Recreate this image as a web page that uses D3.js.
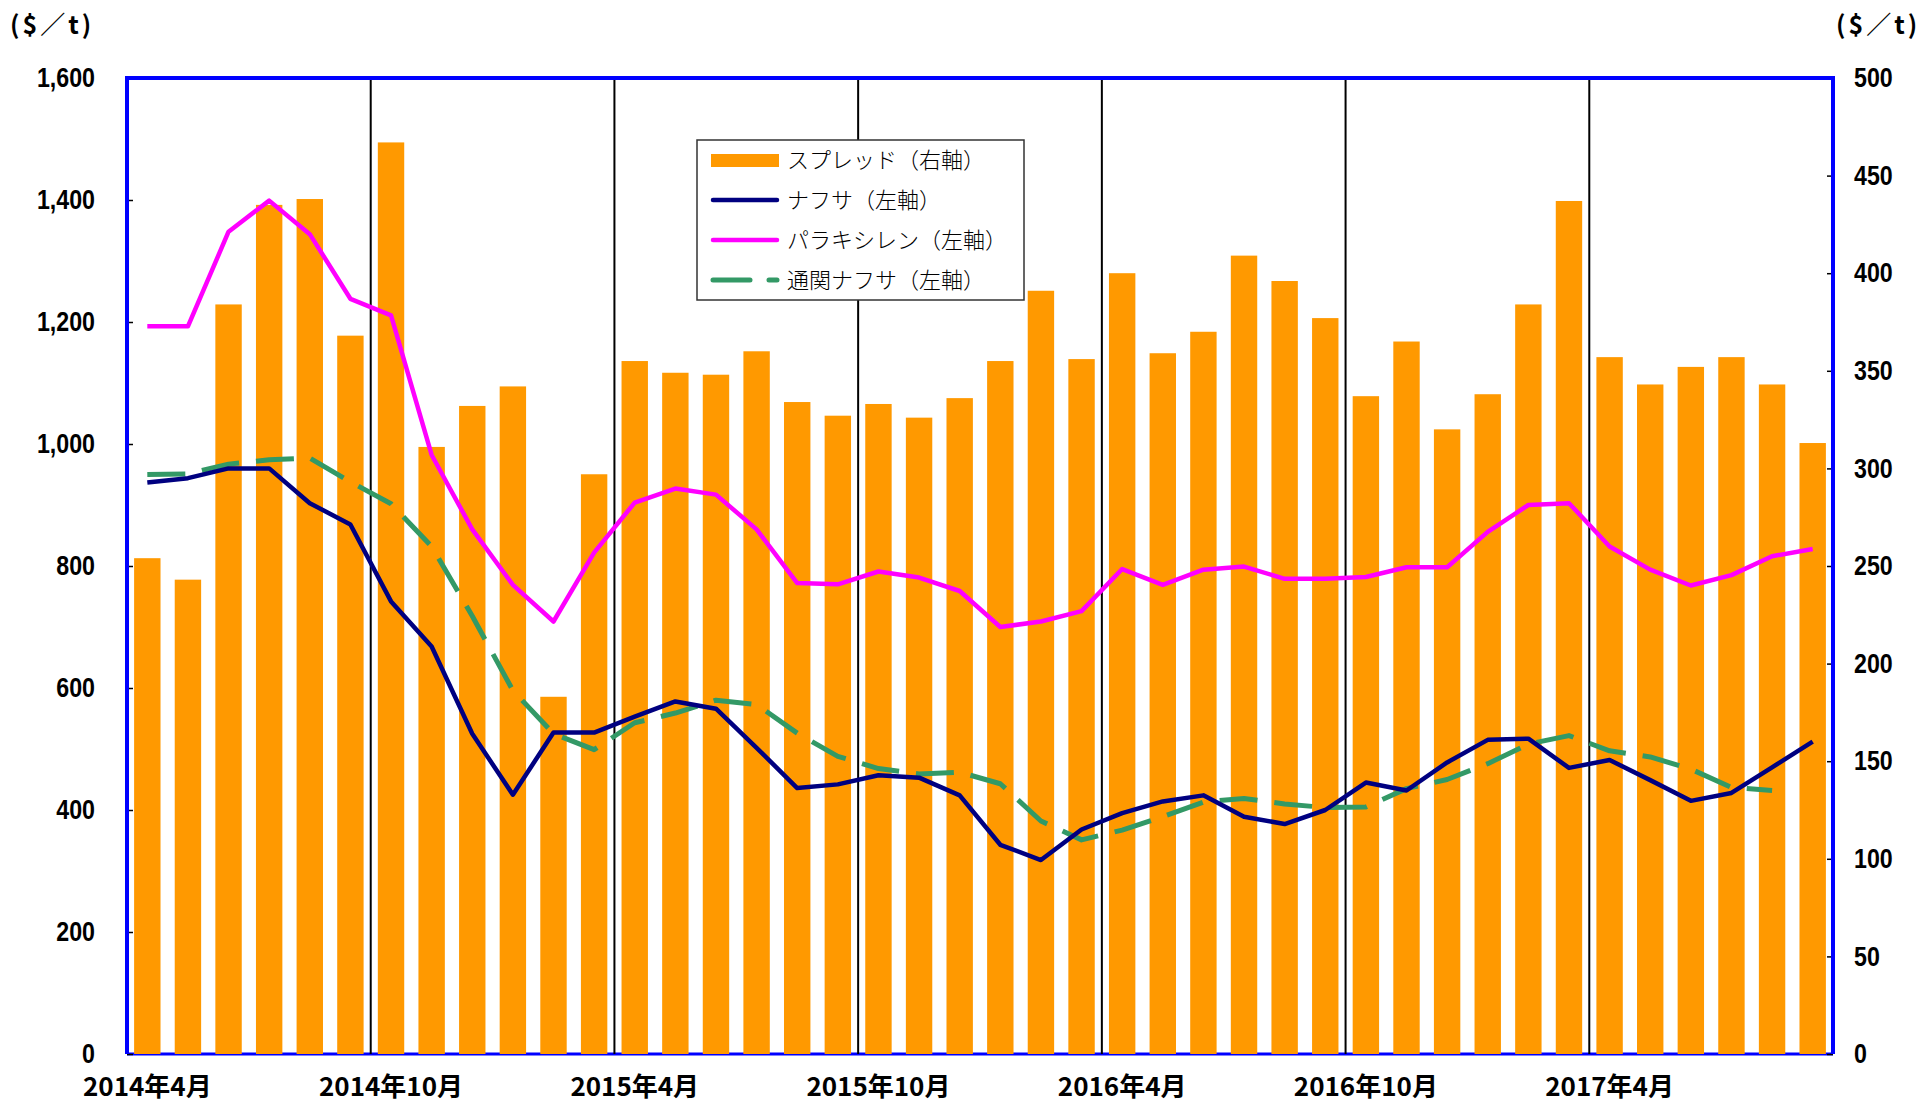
<!DOCTYPE html>
<html lang="ja">
<head>
  <meta charset="UTF-8">
  <title>スプレッド・ナフサ・パラキシレン</title>
  <script src="https://d3js.org/d3.v7.min.js"></script>
  <style>
    body { margin: 0; background: #fff; }
  </style>
</head>
<body>

<script>
  // Months, one bar per month
  const months = [
    "2014年4月","2014年5月","2014年6月","2014年7月","2014年8月","2014年9月",
    "2014年10月","2014年11月","2014年12月","2015年1月","2015年2月","2015年3月",
    "2015年4月","2015年5月","2015年6月","2015年7月","2015年8月","2015年9月",
    "2015年10月","2015年11月","2015年12月","2016年1月","2016年2月","2016年3月",
    "2016年4月","2016年5月","2016年6月","2016年7月","2016年8月","2016年9月",
    "2016年10月","2016年11月","2016年12月","2017年1月","2017年2月","2017年3月",
    "2017年4月","2017年5月","2017年6月","2017年7月","2017年8月","2017年9月"
  ];

  // spread (right axis)
  const spread = [254,243,384,435,438,368,467,311,332,342,183,297,
                  355,349,348,360,334,327,333,326,336,355,391,356,
                  400,359,370,409,396,377,337,365,320,338,384,437,
                  357,343,352,357,343,313];

  // left axis series
  const naphtha = [937,944,960,960,903,868,742,668,525,425,527,527,
                   553,578,566,502,436,442,457,453,424,343,318,368,
                   395,414,424,389,377,400,445,432,478,515,517,469,
                   482,449,415,428,470,512];

  const paraxylene = [1193,1193,1348,1399,1344,1238,1211,982,860,769,709,822,
                      904,927,917,860,772,770,791,781,759,700,709,726,
                      795,769,794,799,779,779,782,798,798,856,900,903,
                      832,794,768,785,816,828];

  const customsNaphtha = [950,951,967,974,977,938,902,832,718,596,525,499,
                          543,559,580,573,526,488,468,459,462,443,382,351,
                          367,389,413,419,410,404,405,435,450,476,508,522,
                          497,487,467,437,432,null];

  const leftTicks = [0,200,400,600,800,1000,1200,1400,1600];
  const rightTicks = [0,50,100,150,200,250,300,350,400,450,500];
  const xTickLabels = ["2014年4月","2014年10月","2015年4月","2015年10月","2016年4月","2016年10月","2017年4月"];

  const legendItems = [
    { name: "スプレッド（右軸）", type: "bar", color: "#FF9900" },
    { name: "ナフサ（左軸）", type: "line", color: "#000080" },
    { name: "パラキシレン（左軸）", type: "line", color: "#FF00FF" },
    { name: "通関ナフサ（左軸）", type: "dash", color: "#339966" }
  ];

  // dimensions
  const W = 1920, H = 1106;
  const margin = { top: 78, right: 87, bottom: 52, left: 127 };
  const width = W - margin.left - margin.right;
  const height = H - margin.top - margin.bottom;
  const numFont = "'Liberation Sans', 'DejaVu Sans', sans-serif";
  const jpFont = "'Noto Sans CJK JP', sans-serif";
  const squeeze = 0.86;

  const svg = d3.select("body").append("svg")
    .attr("width", W)
    .attr("height", H);

  const g = svg.append("g")
    .attr("transform", "translate(" + margin.left + "," + margin.top + ")");

  const x = d3.scaleBand()
    .domain(months)
    .range([0, width])
    .paddingInner(0.35)
    .paddingOuter(0.175);

  const yLeft = d3.scaleLinear().domain([0, 1600]).range([height, 0]);
  const yRight = d3.scaleLinear().domain([0, 500]).range([height, 0]);
  const cx = m => x(m) + x.bandwidth() / 2;

  // bottom line under the bars
  g.append("line")
    .attr("x1", 0).attr("x2", width)
    .attr("y1", height).attr("y2", height)
    .attr("stroke", "#0000FF")
    .attr("stroke-width", 3);

  // bars
  g.selectAll(".bar")
    .data(months)
    .enter().append("rect")
    .attr("class", "bar")
    .attr("x", d => x(d))
    .attr("width", x.bandwidth())
    .attr("y", (d, i) => yRight(spread[i]))
    .attr("height", (d, i) => height - yRight(spread[i]))
    .attr("fill", "#FF9900");

  // half-year separators
  const sepMonths = months.filter((d, i) => i > 0 && i % 6 === 0);
  g.selectAll(".sep")
    .data(sepMonths)
    .enter().append("line")
    .attr("class", "sep")
    .attr("x1", d => x(d) - x.step() * x.paddingOuter())
    .attr("x2", d => x(d) - x.step() * x.paddingOuter())
    .attr("y1", 0)
    .attr("y2", height)
    .attr("stroke", "#000")
    .attr("stroke-width", 2);

  // lines
  function drawLine(values, color, dash, w) {
    const line = d3.line()
      .defined(d => d[1] != null)
      .x(d => cx(d[0]))
      .y(d => yLeft(d[1]));
    g.append("path")
      .datum(months.map((m, i) => [m, values[i]]))
      .attr("d", line)
      .attr("fill", "none")
      .attr("stroke", color)
      .attr("stroke-width", w)
      .attr("stroke-linejoin", "round")
      .attr("stroke-dasharray", dash);
  }
  drawLine(customsNaphtha, "#339966", "38,17", 5);
  drawLine(paraxylene, "#FF00FF", null, 4.5);
  drawLine(naphtha, "#000080", null, 4.5);

  // axes
  const leftAxis = g.append("g")
    .call(d3.axisLeft(yLeft).tickValues(leftTicks).tickSize(-6).tickPadding(32 / squeeze).tickFormat(d3.format(",")));
  const rightAxis = g.append("g")
    .attr("transform", "translate(" + width + ",0)")
    .call(d3.axisRight(yRight).tickValues(rightTicks).tickSize(-6).tickPadding(21 / squeeze));

  [leftAxis, rightAxis].forEach(a => {
    a.select(".domain").remove();
    a.selectAll(".tick line").attr("stroke", "#000").attr("stroke-width", 1.5);
    a.selectAll(".tick text")
      .attr("fill", "#000")
      .attr("transform", "scale(" + squeeze + ",1)")
      .style("font-family", numFont)
      .style("font-weight", "bold")
      .style("font-size", "27px");
  });

  // frame: left, top, right
  g.append("path")
    .attr("d", "M0," + height + "V0H" + width + "V" + height)
    .attr("fill", "none")
    .attr("stroke", "#0000FF")
    .attr("stroke-width", 4);

  // x labels
  g.selectAll(".xlab")
    .data(xTickLabels)
    .enter().append("text")
    .attr("class", "xlab")
    .attr("x", d => cx(d))
    .attr("y", height + 42)
    .attr("text-anchor", "middle")
    .style("font-family", jpFont)
    .style("font-weight", "bold")
    .style("font-size", "26px")
    .text(d => d);

  // unit labels
  [10, 1836].forEach(ux => {
    svg.append("text")
      .attr("x", ux).attr("y", 34)
      .style("font-family", jpFont)
      .style("font-weight", "bold")
      .style("font-size", "25px")
      .style("letter-spacing", "3px")
      .text("($／t)");
  });

  // legend
  const legend = svg.append("g").attr("transform", "translate(697,140)");
  legend.append("rect")
    .attr("width", 327).attr("height", 160)
    .attr("fill", "#fff")
    .attr("stroke", "#333")
    .attr("stroke-width", 1.5);

  const rows = legend.selectAll(".leg")
    .data(legendItems)
    .enter().append("g")
    .attr("class", "leg")
    .attr("transform", (d, i) => "translate(0," + (20 + i * 40) + ")");

  rows.filter(d => d.type === "bar").append("rect")
    .attr("x", 14).attr("y", -6)
    .attr("width", 68).attr("height", 13)
    .attr("fill", d => d.color);

  rows.filter(d => d.type !== "bar").append("line")
    .attr("x1", 16).attr("x2", 80)
    .attr("y1", 0).attr("y2", 0)
    .attr("stroke", d => d.color)
    .attr("stroke-width", d => d.type === "dash" ? 5 : 4.5)
    .attr("stroke-linecap", "round")
    .attr("stroke-dasharray", d => d.type === "dash" ? "37,19" : null);

  rows.append("text")
    .attr("x", 90)
    .attr("y", 0)
    .attr("dy", "0.35em")
    .style("font-family", jpFont)
    .style("font-size", "22px")
    .style("font-weight", "300")
    .text(d => d.name);
</script>

</body>
</html>
